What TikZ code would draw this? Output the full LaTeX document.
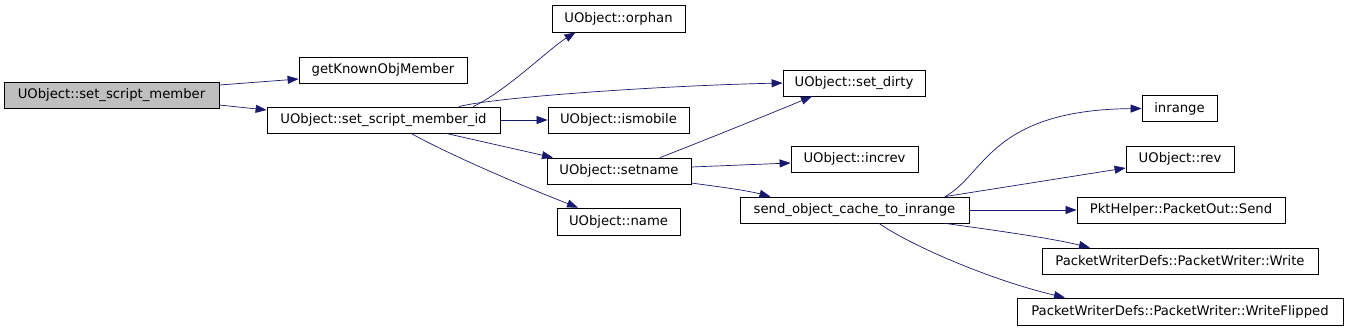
\documentclass[tikz,border=0pt]{standalone}
\usepackage{fontspec}
\setmainfont{DejaVu Sans}
\usetikzlibrary{arrows.meta}
\definecolor{edgeblue}{HTML}{191970}
\definecolor{rootgray}{HTML}{BFBFBF}

\begin{document}
\begin{tikzpicture}[x=1pt,y=-1pt,line width=.8pt,font=\fontsize{13.2}{15}\selectfont,
  fn/.style={draw=black,rectangle,inner sep=0pt,minimum height=26pt,fill=white},
  call/.style={draw=edgeblue,line width=.7pt,-{Triangle[length=11pt,width=8pt]},fill=none}]
\useasboundingbox (0,0) rectangle (1347,329);
\node[fn,fill=rootgray,minimum width=215pt] (ssm) at (111.5,95) {UObject::set\_script\_member};
\node[fn,minimum width=168pt] (gkom) at (383,70) {getKnownObjMember};
\node[fn,minimum width=233pt] (ssmid) at (383.5,120) {UObject::set\_script\_member\_id};
\node[fn,minimum width=133pt,minimum height=27pt] (orphan) at (618.5,18.5) {UObject::orphan};
\node[fn,minimum width=142pt] (setdirty) at (854,83) {UObject::set\_dirty};
\node[fn,minimum width=141pt] (ismobile) at (618.5,120) {UObject::ismobile};
\node[fn,minimum width=144pt] (setname) at (619,171) {UObject::setname};
\node[fn,minimum width=123pt,minimum height=27pt] (name) at (618.5,221.5) {UObject::name};
\node[fn,minimum width=127pt] (increv) at (854.5,159) {UObject::increv};
\node[fn,minimum width=229pt] (socti) at (854.5,210) {send\_object\_cache\_to\_inrange};
\node[fn,minimum width=75pt] (inrange) at (1179.5,108.5) {inrange};
\node[fn,minimum width=108pt] (rev) at (1180,159) {UObject::rev};
\node[fn,minimum width=208pt] (send) at (1181,210) {PktHelper::PacketOut::Send};
\node[fn,minimum width=276pt] (write) at (1180,261) {PacketWriterDefs::PacketWriter::Write};
\node[fn,minimum width=326pt,minimum height=27pt] (wflip) at (1180,311.5) {PacketWriterDefs::PacketWriter::WriteFlipped};
\draw[call] ([yshift=10pt]ssm.east) -- ([yshift=-9pt]gkom.west);
\draw[call] ([yshift=-10pt]ssm.east) -- ([yshift=10pt]ssmid.west);
\draw[call] ([xshift=89.5pt]ssmid.north) .. controls (505,92) and (550,48) .. ([xshift=-43pt]orphan.south);
\draw[call] ([xshift=75.5pt]ssmid.north) .. controls (490,98) and (650,86) .. (setdirty.west);
\draw[call] (ssmid.east) -- (ismobile.west);
\draw[call] ([xshift=62.5pt]ssmid.south) -- ([xshift=-66pt]setname.north);
\draw[call] ([xshift=27.5pt]ssmid.south) .. controls (450,155) and (520,185) .. ([xshift=-40.5pt]name.north);
\draw[call] ([xshift=41pt]setname.north) .. controls (690,146) and (760,118) .. ([xshift=-42pt]setdirty.south);
\draw[call] ([yshift=4pt]setname.east) -- ([yshift=-4pt]increv.west);
\draw[call] ([yshift=-12pt]setname.east) .. controls (720,187) and (745,190) .. ([xshift=-84pt]socti.north);
\draw[call] ([xshift=90.5pt]socti.north) .. controls (985,175) and (990,110) .. (inrange.west);
\draw[call] ([xshift=90.5pt]socti.north) -- ([yshift=-9pt]rev.west);
\draw[call] (socti.east) -- (send.west);
\draw[call] ([xshift=90.5pt]socti.south) .. controls (1000,231) and (1050,238) .. ([xshift=-90pt]write.north);
\draw[call] ([xshift=24.5pt]socti.south) .. controls (910,245) and (990,280) .. ([xshift=-115pt]wflip.north);
\end{tikzpicture}
\end{document}
